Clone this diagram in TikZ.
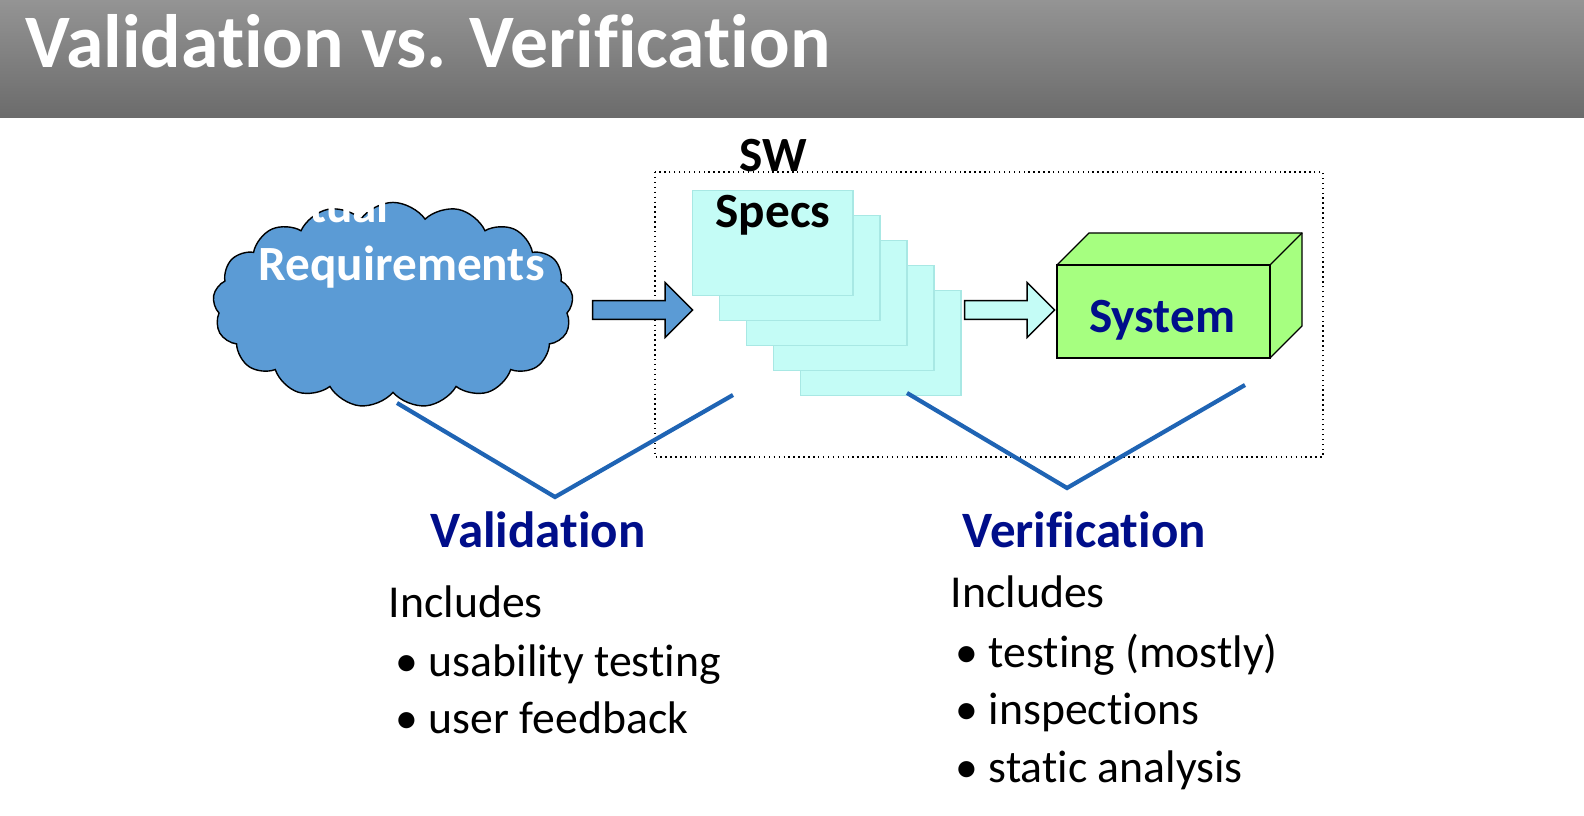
\documentclass[tikz,border=0pt]{standalone}
\usepackage{fontspec}
\setmainfont{Carlito}[Ligatures={NoCommon}]
\usetikzlibrary{shapes.symbols,shapes.arrows,positioning}
\definecolor{cloudblue}{HTML}{5B9BD5}
\definecolor{specfill}{HTML}{C4FCF6}
\definecolor{specline}{HTML}{A8E8E4}
\definecolor{boxgreen}{HTML}{A6FF80}
\definecolor{navy}{HTML}{000E8A}
\definecolor{vline}{HTML}{1F64B4}
\begin{document}
\begin{tikzpicture}[x=0.01cm,y=-0.01cm,
    spec/.style={draw=specline,fill=specfill,minimum width=1.6cm,minimum height=1.05cm,anchor=north west},
    big arrow/.style={single arrow,draw,thin,minimum height=1cm,minimum width=0.55cm,single arrow head extend=0.13cm,inner sep=0.06cm},
    head/.style={font=\bfseries\fontsize{14.5}{17}\selectfont,text=navy,anchor=base west},
    body/.style={font=\fontsize{13}{16}\selectfont,anchor=base west}]
  \useasboundingbox (0,0) rectangle (1584,816);
  % title bar
  \shade[top color=black!42,bottom color=black!58] (0,0) rectangle (1584,118);
  \node[anchor=base west,text=white,font=\bfseries\fontsize{21.5}{26}\selectfont,inner sep=0pt] (title) at (25,68) {Validation vs. Verification};
  % cloud
  \node[cloud,cloud puffs=17,cloud puff arc=110,aspect=1.9,draw,fill=cloudblue,minimum width=3.6cm,minimum height=2.05cm] (req) at (393,305) {};
  \node[anchor=base west,align=left,text=white,font=\bfseries\fontsize{14}{16.5}\selectfont,inner sep=0pt] (reqtext) at (258,281) {Actual\\Requirements};
  % dotted frame
  \draw[densely dotted] (655,172) rectangle (1323,457);
  % stacked spec sheets
  \foreach \i in {4,3,2,1}
    \node[spec] (sp\i) at (692+27*\i,190+25*\i) {};
  \node[spec] (sp0) at (692,190) {};
  \node[anchor=base,align=center,font=\bfseries\fontsize{14}{16}\selectfont,inner sep=0pt] (spectext) at (773,228) {SW\\Specs};
  % arrows
  \node[big arrow,fill=cloudblue] (a1) at (638,310) {};
  \node[big arrow,fill=specfill,minimum height=0.9cm] (a2) at (1005,310) {};
  % system box
  \fill[boxgreen] (1057,265) -- (1089,233) -- (1302,233) -- (1302,326) -- (1270,358) -- (1057,358) -- cycle;
  \draw (1057,265) rectangle (1270,358);
  \draw (1057,265) -- (1089,233) -- (1302,233) -- (1302,326) -- (1270,358);
  \draw (1270,265) -- (1302,233);
  \node[font=\bfseries\fontsize{14}{17}\selectfont,text=navy,anchor=base] (sys) at (1162,333) {System};
  % V shapes
  \coordinate (v1a) at (397,403); \coordinate (v1b) at (555,497); \coordinate (v1c) at (733,395);
  \coordinate (v2a) at (907,393); \coordinate (v2b) at (1067,488); \coordinate (v2c) at (1245,385);
  \draw[vline,line width=1.2pt] (v1a) -- (v1b) -- (v1c);
  \draw[vline,line width=1.2pt] (v2a) -- (v2b) -- (v2c);
  % labels
  \node[head,inner sep=0pt] (val) at (430,548) {Validation};
  \node[head,inner sep=0pt] (ver) at (962,548) {Verification};
  \node[body,inner sep=0pt] (inc1) at (388,618) {Includes};
  \node[body,inner sep=0pt] (u1) at (395,677) {\textbullet\ usability testing};
  \node[body,inner sep=0pt] (u2) at (395,734) {\textbullet\ user feedback};
  \node[body,inner sep=0pt] (inc2) at (950,608) {Includes};
  \node[body,inner sep=0pt] (t1) at (955,668) {\textbullet\ testing (mostly)};
  \node[body,inner sep=0pt] (t2) at (955,725) {\textbullet\ inspections};
  \node[body,inner sep=0pt] (t3) at (955,783) {\textbullet\ static analysis};
\end{tikzpicture}
\end{document}
